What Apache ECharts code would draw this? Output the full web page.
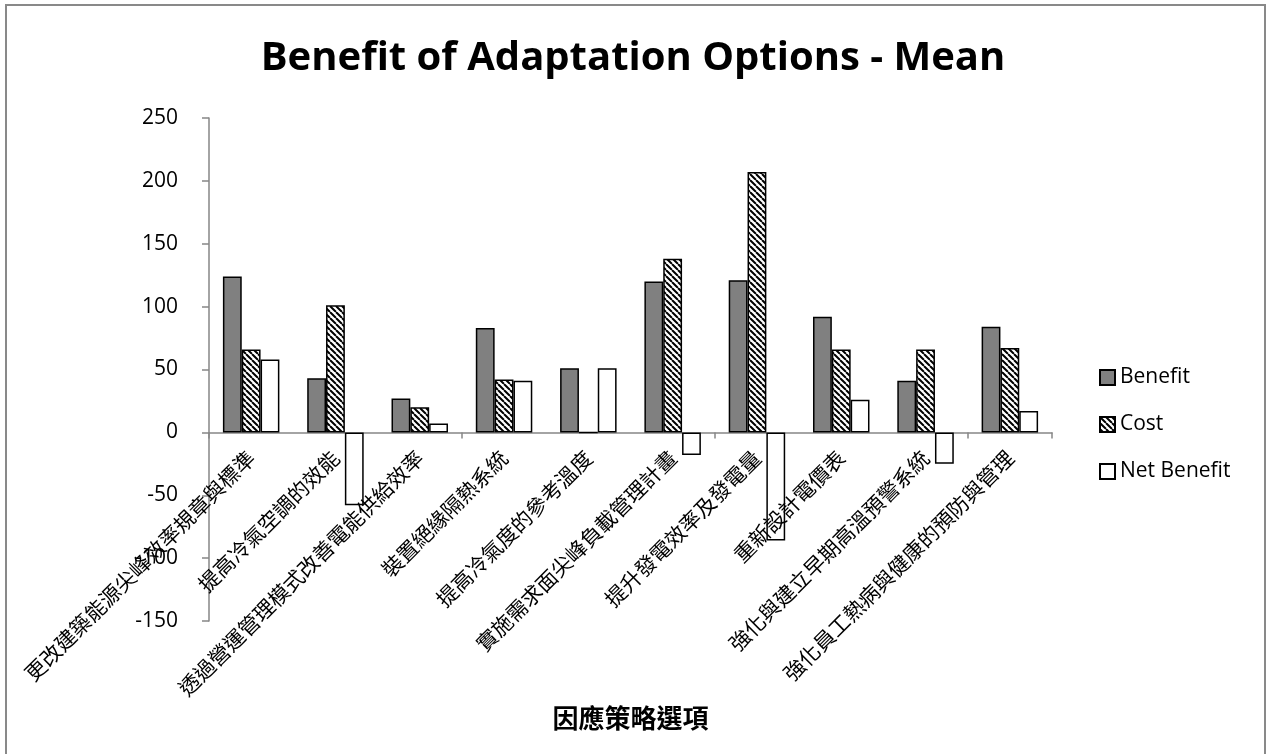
<!DOCTYPE html>
<html>
<head>
<meta charset="utf-8">
<script src="https://cdn.jsdelivr.net/npm/echarts@6/dist/echarts.min.js"></script>
<style>
  html, body { margin: 0; padding: 0; background: #fff; }
  #chart { width: 1266px; height: 754px; }
</style>
</head>
<body>
<div id="chart"></div>
<script>
// Adaptation options (categories) and mean values per option
const categories = [
  '更改建築能源尖峰效率規章與標準',
  '提高冷氣空調的效能',
  '透過營運管理模式改善電能供給效率',
  '裝置絕緣隔熱系統',
  '提高冷氣度的參考溫度',
  '實施需求面尖峰負載管理計畫',
  '提升發電效率及發電量',
  '重新設計電價表',
  '強化與建立早期高溫預警系統',
  '強化員工熱病與健康的預防與管理'
];
const benefit    = [124, 43, 27, 83, 51, 120, 121, 92, 41, 84];
const cost       = [66, 101, 20, 42, 0, 138, 207, 66, 66, 67];
const netBenefit = [58, -58, 7, 41, 51, -18, -86, 26, -25, 17];
const seriesNames = ['Benefit', 'Cost', 'Net Benefit'];
const yTicks = { min: -150, max: 250, interval: 50 };

// Diagonal hatch fill used for the Cost bars
function hatchPattern() {
  const s = 6;
  const c = document.createElement('canvas');
  c.width = s; c.height = s;
  const ctx = c.getContext('2d');
  ctx.fillStyle = '#fff';
  ctx.fillRect(0, 0, s, s);
  ctx.strokeStyle = '#000';
  ctx.lineWidth = 2;
  ctx.beginPath();
  [-s, 0, s].forEach(function (o) {
    ctx.moveTo(o, 0);
    ctx.lineTo(o + s, s);
  });
  ctx.stroke();
  return c;
}

const latin = '"Open Sans", Lato, sans-serif';
const cjk = '"Noto Sans CJK TC", "Noto Sans CJK SC", sans-serif';
const axisGray = '#868686';

// Plot area; the zero line sits where the value axis crosses 0
const plot = { left: 209, right: 214, top: 118, bottom: 133, height: 754 };
const zeroFromBottom = plot.bottom +
  (0 - yTicks.min) / (yTicks.max - yTicks.min) * (plot.height - plot.top - plot.bottom);

const chart = echarts.init(document.getElementById('chart'), null, { renderer: 'canvas' });

const barBase = { type: 'bar', barGap: '0%', barCategoryGap: '33%', xAxisIndex: 0, yAxisIndex: 0 };

chart.setOption({
  backgroundColor: '#fff',
  animation: false,
  title: {
    text: 'Benefit of Adaptation Options - Mean',
    left: 'center',
    top: 34,
    textStyle: { fontFamily: latin, fontWeight: 'bold', fontSize: 40, color: '#000' }
  },
  legend: {
    orient: 'vertical',
    left: 1094,
    top: 362,
    itemWidth: 15,
    itemHeight: 15,
    itemGap: 26,
    icon: 'rect',
    textStyle: { fontFamily: latin, fontSize: 21, color: '#000' },
    data: seriesNames
  },
  grid: [
    // bars, value axis, zero line
    { left: plot.left, right: plot.right, top: plot.top, bottom: plot.bottom,
      containLabel: false, outerBoundsMode: 'none' },
    // category labels hung from the zero line
    { left: plot.left, right: plot.right, top: plot.top, bottom: zeroFromBottom,
      containLabel: false, outerBoundsMode: 'none' }
  ],
  xAxis: [{
    type: 'category',
    gridIndex: 0,
    data: categories,
    axisLine: { onZero: true, lineStyle: { color: axisGray, width: 1.5 } },
    axisTick: { show: true, length: 6, alignWithLabel: false, lineStyle: { color: axisGray, width: 1.5 } },
    axisLabel: { show: false },
    splitLine: { show: false }
  }, {
    type: 'category',
    gridIndex: 1,
    z: 10,
    data: categories,
    name: '因應策略選項',
    nameLocation: 'middle',
    nameGap: 273,
    nameMoveOverlap: false,
    nameTextStyle: { fontFamily: cjk, fontWeight: 'bold', fontSize: 26, color: '#000' },
    axisLine: { show: false },
    axisTick: { show: false },
    axisLabel: {
      rotate: 45,
      interval: 0,
      margin: 22,
      fontFamily: cjk,
      fontSize: 21,
      color: '#000'
    },
    splitLine: { show: false }
  }],
  yAxis: [{
    type: 'value',
    gridIndex: 0,
    min: yTicks.min,
    max: yTicks.max,
    interval: yTicks.interval,
    axisLine: { show: true, lineStyle: { color: axisGray, width: 1.5 } },
    axisTick: { show: true, length: 7, lineStyle: { color: axisGray, width: 1.5 } },
    axisLabel: { fontFamily: latin, fontSize: 21, color: '#000', margin: 31 },
    splitLine: { show: false }
  }, {
    type: 'value',
    gridIndex: 1,
    show: false
  }],
  series: [
    Object.assign({}, barBase, {
      name: seriesNames[0],
      data: benefit,
      itemStyle: { color: '#808080', borderColor: '#000', borderWidth: 1.5 }
    }),
    Object.assign({}, barBase, {
      name: seriesNames[1],
      data: cost,
      itemStyle: {
        color: { image: hatchPattern(), repeat: 'repeat' },
        borderColor: '#000',
        borderWidth: 1.5
      }
    }),
    Object.assign({}, barBase, {
      name: seriesNames[2],
      data: netBenefit,
      itemStyle: { color: '#fff', borderColor: '#000', borderWidth: 1.5 }
    })
  ],
  graphic: [{
    type: 'rect',
    silent: true,
    shape: { x: 6, y: 5, width: 1259, height: 760 },
    style: { fill: null, stroke: '#898989', lineWidth: 2 }
  }]
});
</script>
</body>
</html>
